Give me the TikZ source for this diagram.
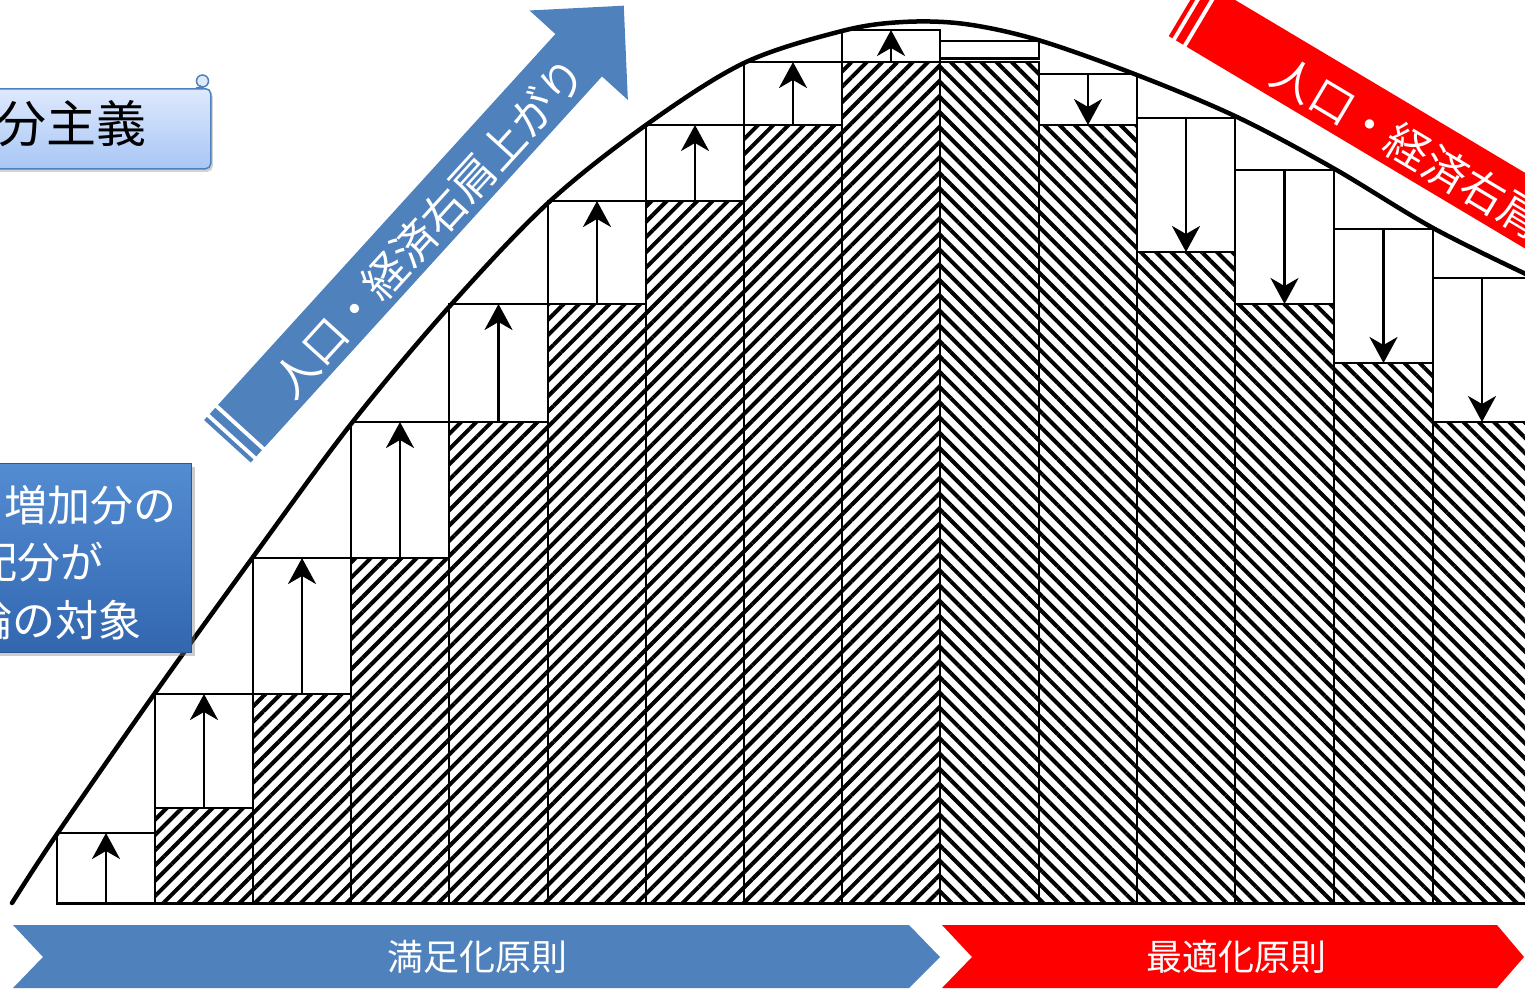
\documentclass[tikz,border=0pt]{standalone}
\usepackage{fontspec}
\setmainfont{Noto Sans CJK JP}
\usetikzlibrary{patterns.meta,arrows.meta,shadows}
\definecolor{accblue}{RGB}{79,129,189}
\definecolor{accred}{RGB}{255,0,0}
\definecolor{scrolltop}{RGB}{222,233,253}
\definecolor{scrollbot}{RGB}{168,198,245}
\definecolor{boxtop}{RGB}{84,140,210}
\definecolor{boxbot}{RGB}{50,103,175}
\definecolor{boxedge}{RGB}{45,85,145}
\begin{document}
\begin{tikzpicture}[x=1pt,y=-1pt,
  hatch/.style={draw, line width=2.7pt, inner sep=0pt, outer sep=0pt, anchor=north west,
    pattern={Lines[angle=#1,distance=10.8pt,line width=4pt]}},
  wbox/.style={draw, line width=2.7pt, fill=white, inner sep=0pt, outer sep=0pt, anchor=north west},
  arr/.style={line width=2.7pt, -{Stealth[length=26pt,width=28pt,inset=8pt]}},
  jp/.style={font=\fontsize{#1}{#1}\selectfont, inner sep=0pt},
]
\useasboundingbox (0,0) rectangle (1525,990);

% hatched columns
\foreach \n/\a/\b/\t/\g in {1/155/253/808/45, 2/253/351/694/45, 3/351/449/558/45, 4/449/548/422/45,
  5/548/646/304/45, 6/646/744/201/45, 7/744/842/125/45, 8/842/940/62/45,
  9/940/1039/62/-45, 10/1039/1137/125/-45, 11/1137/1235/252/-45, 12/1235/1334/304/-45,
  13/1334/1433/363/-45, 14/1433/1531/422/-45}
  \node[hatch=\g, minimum width={(\b-\a)*1pt}, minimum height={(903.5-\t)*1pt}] (h\n) at (\a,\t) {};

% white increment / decrement boxes
\foreach \n/\a/\b/\t/\u in {0/57/155/833/903.5, 1/155/253/694/808, 2/253/351/558/694, 3/351/449/422/558,
  4/449/548/304/422, 5/548/646/201/304, 6/646/744/125/201, 7/744/842/62/125, 8/842/940/30/62,
  9/940/1039/41/58.5, 10/1039/1137/74/125, 11/1137/1235/118/252, 12/1235/1334/170/304,
  13/1334/1433/229/363, 14/1433/1531/278/422}
  \node[wbox, minimum width={(\b-\a)*1pt}, minimum height={(\u-\t)*1pt}] (w\n) at (\a,\t) {};

\foreach \n in {0,...,8} \draw[arr] (w\n.south) -- (w\n.north);
\foreach \n in {10,...,14} \draw[arr] (w\n.north) -- (w\n.south);

% bell curve
\draw[line width=4.5pt, line cap=round] plot[smooth, tension=0.55] coordinates {
  (12,903) (57,834) (155,693) (253,557) (351,424) (449,307) (548,203) (646,125)
  (744,63) (842,31) (903,22) (965,24) (1038,40) (1137,75) (1237,117) (1333,168)
  (1433,228) (1530,276)};

% rising arrow
\begin{scope}[shift={(227.4,441.3)}, rotate=47.7]
  \fill[accblue] (0,-31.5) rectangle (4.2,31.5);
  \fill[accblue] (8.3,-31.5) rectangle (16.6,31.5);
  \fill[accblue] (20.8,-31.5) -- (522,-31.5) -- (522,-66.5) -- (589,0) -- (522,66.5) -- (522,31.5) -- (20.8,31.5) -- cycle;
  \node[jp=44, text=white, rotate=47.7] (uptext) at (294,5) {人口・経済右肩上がり};
\end{scope}

% falling arrow
\begin{scope}[shift={(1185.4,8.2)}, rotate=-30.8]
  \fill[accred] (0,-32.5) rectangle (4.2,32.5);
  \fill[accred] (8.3,-32.5) rectangle (16.6,32.5);
  \fill[accred] (20.8,-32.5) rectangle (640,32.5);
  \node[jp=44, text=white, rotate=-30.8, anchor=west] (downtext) at (108,5) {人口・経済右肩};
\end{scope}

% scroll box top left
\node[draw=accblue, line width=1.5pt, rounded corners=5pt, top color=scrolltop, bottom color=scrollbot,
  minimum width=250pt, minimum height=80pt, anchor=north west, inner sep=0pt,
  drop shadow={shadow xshift=2pt, shadow yshift=-3pt, opacity=0.35}] (scroll) at (-40,88) {};
\filldraw[draw=accblue, line width=1.5pt, fill=scrolltop] (202.5,81) circle (6);
\draw[accblue, line width=1.2pt] (200,85) -- (200,88) (196,88) -- (204,88);
\node[jp=50, anchor=east] (scrolltext) at (147,124) {分主義};

% blue note box left
\node[draw=boxedge, line width=1pt, top color=boxtop, bottom color=boxbot,
  minimum width=231pt, minimum height=189pt, anchor=north west, inner sep=0pt,
  drop shadow={shadow xshift=3pt, shadow yshift=-3pt, opacity=0.4}] (note) at (-40,463) {};
\node[jp=43, text=white, anchor=west] (note1) at (4,505) {増加分の};
\node[jp=43, text=white, anchor=west] (note2) at (-26,562) {配分が};
\node[jp=43, text=white, anchor=west] (note3) at (-31,620) {論の対象};

% bottom chevrons
\fill[accblue] (13,925) -- (909,925) -- (940,957) -- (909,988) -- (13,988) -- (43,957) -- cycle;
\node[jp=36, text=white] (sat) at (477,957) {満足化原則};
\fill[accred] (942,925) -- (1497,925) -- (1524,957) -- (1497,988) -- (942,988) -- (972,957) -- cycle;
\node[jp=36, text=white] (opt) at (1236,957) {最適化原則};
\end{tikzpicture}
\end{document}
